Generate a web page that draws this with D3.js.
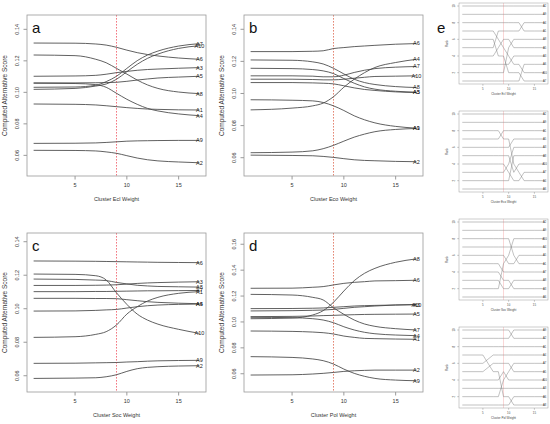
<!DOCTYPE html>
<html>
<head>
<meta charset="utf-8">
<style>
    body { margin: 0; background: white; }
    svg { display: block; font-family: "Liberation Sans", Arial, sans-serif; }
</style>
</head>
<body>
<svg width="550" height="424"></svg>

<script src="https://d3js.org/d3.v7.min.js"></script>
<script>
    const knots = [1, 5, 7, 8, 9, 10, 11, 12, 13, 15, 17];
    const alternatives = ["A1", "A2", "A3", "A4", "A5", "A6", "A7", "A8", "A9", "A10"];

    // rows follow the alternatives order
    const eclScores = [
        [0.0926, 0.0924, 0.0920, 0.0915, 0.0909, 0.0903, 0.0898, 0.0894, 0.0892, 0.0889, 0.0888],
        [0.0632, 0.0631, 0.0628, 0.0622, 0.0613, 0.0598, 0.0583, 0.0572, 0.0565, 0.0558, 0.0553],
        [0.1102, 0.1104, 0.1108, 0.1115, 0.1125, 0.1133, 0.1140, 0.1145, 0.1148, 0.1153, 0.1157],
        [0.1058, 0.1056, 0.1049, 0.1032, 0.0994, 0.0956, 0.0924, 0.0898, 0.0882, 0.0863, 0.0852],
        [0.1060, 0.1060, 0.1061, 0.1062, 0.1064, 0.1070, 0.1078, 0.1085, 0.1091, 0.1097, 0.1102],
        [0.1313, 0.1312, 0.1307, 0.1300, 0.1286, 0.1268, 0.1252, 0.1240, 0.1231, 0.1218, 0.1210],
        [0.1032, 0.1034, 0.1045, 0.1068, 0.1102, 0.1152, 0.1201, 0.1237, 0.1262, 0.1294, 0.1309],
        [0.1237, 0.1233, 0.1210, 0.1188, 0.1152, 0.1116, 0.1078, 0.1047, 0.1025, 0.1002, 0.0992],
        [0.0676, 0.0677, 0.0679, 0.0682, 0.0686, 0.0690, 0.0692, 0.0693, 0.0694, 0.0695, 0.0695],
        [0.1019, 0.1025, 0.1040, 0.1053, 0.1083, 0.1131, 0.1178, 0.1216, 0.1243, 0.1279, 0.1296]
    ];
    const ecoScores = [
        [0.0961, 0.0958, 0.0954, 0.0944, 0.0923, 0.0894, 0.0861, 0.0836, 0.0817, 0.0795, 0.0784],
        [0.0616, 0.0614, 0.0612, 0.0608, 0.0602, 0.0594, 0.0587, 0.0583, 0.0581, 0.0577, 0.0575],
        [0.1157, 0.1155, 0.1149, 0.1141, 0.1124, 0.1093, 0.1064, 0.1041, 0.1027, 0.1014, 0.1008],
        [0.0898, 0.0909, 0.0923, 0.0940, 0.0980, 0.1039, 0.1089, 0.1130, 0.1162, 0.1193, 0.1213],
        [0.1068, 0.1068, 0.1066, 0.1064, 0.1060, 0.1048, 0.1035, 0.1025, 0.1019, 0.1010, 0.1006],
        [0.1261, 0.1261, 0.1263, 0.1266, 0.1280, 0.1286, 0.1292, 0.1296, 0.1300, 0.1307, 0.1311],
        [0.1110, 0.1110, 0.1108, 0.1104, 0.1104, 0.1114, 0.1131, 0.1145, 0.1155, 0.1164, 0.1168],
        [0.1209, 0.1207, 0.1197, 0.1184, 0.1157, 0.1122, 0.1089, 0.1068, 0.1056, 0.1043, 0.1037],
        [0.0631, 0.0635, 0.0643, 0.0656, 0.0677, 0.0703, 0.0728, 0.0747, 0.0762, 0.0776, 0.0782],
        [0.1089, 0.1089, 0.1087, 0.1085, 0.1085, 0.1089, 0.1095, 0.1101, 0.1106, 0.1108, 0.1110]
    ];
    const socScores = [
        [0.0829, 0.0833, 0.0847, 0.0863, 0.0903, 0.0968, 0.1012, 0.1046, 0.1068, 0.1092, 0.1102],
        [0.0584, 0.0586, 0.0588, 0.0594, 0.0606, 0.0626, 0.0642, 0.0650, 0.0654, 0.0658, 0.0660],
        [0.1139, 0.1139, 0.1140, 0.1141, 0.1143, 0.1147, 0.1151, 0.1154, 0.1156, 0.1159, 0.1161],
        [0.0986, 0.0987, 0.0990, 0.0993, 0.0996, 0.1004, 0.1012, 0.1018, 0.1022, 0.1026, 0.1028],
        [0.1062, 0.1062, 0.1061, 0.1061, 0.1060, 0.1054, 0.1048, 0.1042, 0.1038, 0.1033, 0.1030],
        [0.1285, 0.1284, 0.1283, 0.1282, 0.1281, 0.1280, 0.1279, 0.1278, 0.1277, 0.1276, 0.1275],
        [0.1102, 0.1102, 0.1103, 0.1103, 0.1104, 0.1105, 0.1106, 0.1107, 0.1107, 0.1108, 0.1109],
        [0.1177, 0.1175, 0.1171, 0.1168, 0.1157, 0.1148, 0.1140, 0.1136, 0.1133, 0.1131, 0.1129],
        [0.0674, 0.0675, 0.0677, 0.0678, 0.0679, 0.0682, 0.0684, 0.0687, 0.0689, 0.0691, 0.0692],
        [0.1207, 0.1205, 0.1197, 0.1172, 0.1095, 0.1026, 0.0968, 0.0932, 0.0908, 0.0877, 0.0853]
    ];
    const polScores = [
        [0.0930, 0.0927, 0.0922, 0.0917, 0.0907, 0.0891, 0.0881, 0.0873, 0.0871, 0.0868, 0.0866],
        [0.0590, 0.0592, 0.0598, 0.0603, 0.0610, 0.0618, 0.0623, 0.0626, 0.0628, 0.0628, 0.0628],
        [0.1103, 0.1104, 0.1106, 0.1108, 0.1113, 0.1118, 0.1123, 0.1126, 0.1128, 0.1131, 0.1134],
        [0.1036, 0.1033, 0.1025, 0.1015, 0.0994, 0.0963, 0.0938, 0.0920, 0.0909, 0.0899, 0.0894],
        [0.1041, 0.1043, 0.1046, 0.1049, 0.1051, 0.1054, 0.1056, 0.1058, 0.1059, 0.1060, 0.1061],
        [0.1260, 0.1261, 0.1268, 0.1273, 0.1286, 0.1298, 0.1306, 0.1311, 0.1317, 0.1319, 0.1322],
        [0.1213, 0.1208, 0.1190, 0.1170, 0.1110, 0.1059, 0.1015, 0.0984, 0.0966, 0.0948, 0.0938],
        [0.1025, 0.1030, 0.1054, 0.1087, 0.1152, 0.1239, 0.1319, 0.1376, 0.1414, 0.1461, 0.1487],
        [0.0732, 0.0726, 0.0714, 0.0701, 0.0675, 0.0636, 0.0603, 0.0580, 0.0564, 0.0551, 0.0546],
        [0.1085, 0.1087, 0.1090, 0.1092, 0.1097, 0.1105, 0.1113, 0.1118, 0.1123, 0.1131, 0.1134]
    ];

    const weightTicks = [5, 10, 15];
    const scoreTicks = [0.06, 0.08, 0.10, 0.12, 0.14];
    const scoreTicksPol = [0.06, 0.08, 0.10, 0.12, 0.14, 0.16];
    const rankTicks = [2, 4, 6, 8, 10];
    const currentWeight = 9;

    let svg = d3.select("svg");
    const lineColor = "#444";
    const boxColor = "#9a9a9a";

    const panels = [
        { letter: "a", title: "Cluster Ecl Weight", scores: eclScores, left: 27, right: 206, top: 15, bottom: 176,
          domain: [0.0469, 0.1491], ticks: scoreTicks, refColor: "#ee3e4c", eTop: 3 },
        { letter: "b", title: "Cluster Eco Weight", scores: ecoScores, left: 244, right: 423, top: 15, bottom: 176,
          domain: [0.0486, 0.1489], ticks: scoreTicks, refColor: "#d9533a", eTop: 111 },
        { letter: "c", title: "Cluster Soc Weight", scores: socScores, left: 27, right: 206, top: 233, bottom: 392,
          domain: [0.0503, 0.1452], ticks: scoreTicks, refColor: "#ee3e4c", eTop: 219 },
        { letter: "d", title: "Cluster Pol Weight", scores: polScores, left: 244, right: 423, top: 233, bottom: 392,
          domain: [0.0459, 0.1687], ticks: scoreTicksPol, refColor: "#d9533a", eTop: 327 }
    ];

    panels.forEach(function (p) {
        let g = svg.append("g");

        let x = d3.scaleLinear().domain([0.36, 17.64]).range([p.left, p.right]);
        let y = d3.scaleLinear().domain(p.domain).range([p.bottom, p.top]);

        // y axis: rotated labels like base R
        let yAxis = g.append("g");
        yAxis.selectAll("line")
            .data(p.ticks)
            .join("line")
            .attr("x1", p.left).attr("x2", p.left - 3.5)
            .attr("y1", d => y(d)).attr("y2", d => y(d))
            .style("stroke", "#555").style("stroke-width", 0.6);
        yAxis.selectAll("text")
            .data(p.ticks)
            .join("text")
            .attr("transform", d => `translate(${p.left - 8},${y(d)}) rotate(-90)`)
            .attr("text-anchor", "middle")
            .style("font-size", "5.5px")
            .style("fill", "#333")
            .text(d => d.toFixed(2));

        g.append("text")
            .attr("transform", `translate(${p.left - 20},${(p.top + p.bottom) / 2}) rotate(-90)`)
            .attr("text-anchor", "middle")
            .style("font-size", "6.5px")
            .style("fill", "#333")
            .text("Computed Alternative Score");

        // x axis
        let xAxis = g.append("g");
        xAxis.selectAll("line")
            .data(weightTicks)
            .join("line")
            .attr("x1", d => x(d)).attr("x2", d => x(d))
            .attr("y1", p.bottom).attr("y2", p.bottom + 3.5)
            .style("stroke", "#555").style("stroke-width", 0.6);
        xAxis.selectAll("text")
            .data(weightTicks)
            .join("text")
            .attr("x", d => x(d))
            .attr("y", p.bottom + 11)
            .attr("text-anchor", "middle")
            .style("font-size", "5.5px")
            .style("fill", "#333")
            .text(d => d);

        g.append("text")
            .attr("x", (p.left + p.right) / 2)
            .attr("y", p.bottom + 25)
            .attr("text-anchor", "middle")
            .style("font-size", "5.5px")
            .style("fill", "#333")
            .text(p.title);

        // current weight
        g.append("line")
            .attr("x1", x(currentWeight)).attr("x2", x(currentWeight))
            .attr("y1", p.top).attr("y2", p.bottom)
            .style("stroke", p.refColor)
            .style("stroke-width", 0.7)
            .style("stroke-dasharray", "1.6,1.4");

        let line = d3.line()
            .x((d, i) => x(knots[i]))
            .y(d => y(d))
            .curve(d3.curveMonotoneX);

        g.append("g")
            .selectAll("path")
            .data(p.scores)
            .join("path")
            .attr("d", d => line(d))
            .style("fill", "none")
            .style("stroke", lineColor)
            .style("stroke-width", 0.85);

        g.append("g")
            .selectAll("text")
            .data(p.scores)
            .join("text")
            .attr("x", x(17))
            .attr("y", d => y(d[d.length - 1]))
            .attr("dy", "0.35em")
            .attr("text-anchor", "middle")
            .style("font-size", "5.5px")
            .style("fill", "#222")
            .text((d, i) => alternatives[i]);

        g.append("rect")
            .attr("x", p.left).attr("y", p.top)
            .attr("width", p.right - p.left).attr("height", p.bottom - p.top)
            .style("fill", "none")
            .style("stroke", boxColor)
            .style("stroke-width", 0.8);

        g.append("text")
            .attr("x", p.left + 5)
            .attr("y", p.top + 18)
            .style("font-size", "15px")
            .style("fill", "#111")
            .text(p.letter);

        drawRanks(p);
    });

    // small rank plots in column e, ranks taken from the same scores
    function drawRanks(p) {
        let left = 459, right = 548, top = p.eTop, bottom = p.eTop + 81;
        let g = svg.append("g");

        let x = d3.scaleLinear().domain([0.36, 17.64]).range([left, right]);
        let y = d3.scaleLinear().domain([0.64, 10.36]).range([bottom, top]);

        let ranks = p.scores.map(() => []);
        knots.forEach(function (k, i) {
            let order = d3.range(p.scores.length)
                .sort((a, b) => p.scores[b][i] - p.scores[a][i]);
            order.forEach((alt, pos) => { ranks[alt][i] = pos + 1 });
        });

        g.append("line")
            .attr("x1", x(currentWeight)).attr("x2", x(currentWeight))
            .attr("y1", top).attr("y2", bottom)
            .style("stroke", "#f29a9a")
            .style("stroke-width", 0.4);

        let line = d3.line()
            .x((d, i) => x(knots[i]))
            .y(d => y(d));

        g.append("g")
            .selectAll("path")
            .data(ranks)
            .join("path")
            .attr("d", d => line(d))
            .style("fill", "none")
            .style("stroke", "#777")
            .style("stroke-width", 0.45);

        g.append("g")
            .selectAll("text")
            .data(ranks)
            .join("text")
            .attr("x", x(17))
            .attr("y", d => y(d[d.length - 1]))
            .attr("dy", "0.35em")
            .attr("text-anchor", "middle")
            .style("font-size", "2.6px")
            .style("fill", "#333")
            .text((d, i) => alternatives[i]);

        g.append("rect")
            .attr("x", left).attr("y", top)
            .attr("width", right - left).attr("height", bottom - top)
            .style("fill", "none")
            .style("stroke", boxColor)
            .style("stroke-width", 0.5);

        g.selectAll(".ytick")
            .data(rankTicks)
            .join("line")
            .attr("x1", left).attr("x2", left - 1.8)
            .attr("y1", d => y(d)).attr("y2", d => y(d))
            .style("stroke", "#777").style("stroke-width", 0.4);
        g.selectAll(".ylab")
            .data(rankTicks)
            .join("text")
            .attr("transform", d => `translate(${left - 4},${y(d)}) rotate(-90)`)
            .attr("text-anchor", "middle")
            .style("font-size", "2.8px")
            .style("fill", "#444")
            .text(d => d);
        g.append("text")
            .attr("transform", `translate(${left - 11},${(top + bottom) / 2}) rotate(-90)`)
            .attr("text-anchor", "middle")
            .style("font-size", "3px")
            .style("fill", "#444")
            .text("Rank");

        g.selectAll(".xtick")
            .data(weightTicks)
            .join("line")
            .attr("x1", d => x(d)).attr("x2", d => x(d))
            .attr("y1", bottom).attr("y2", bottom + 1.8)
            .style("stroke", "#777").style("stroke-width", 0.4);
        g.selectAll(".xlab")
            .data(weightTicks)
            .join("text")
            .attr("x", d => x(d))
            .attr("y", bottom + 5.5)
            .attr("text-anchor", "middle")
            .style("font-size", "2.8px")
            .style("fill", "#444")
            .text(d => d);
        g.append("text")
            .attr("x", (left + right) / 2)
            .attr("y", bottom + 11)
            .attr("text-anchor", "middle")
            .style("font-size", "3px")
            .style("fill", "#444")
            .text(p.title);
    }

    svg.append("text")
        .attr("x", 437)
        .attr("y", 33)
        .style("font-size", "15px")
        .style("fill", "#111")
        .text("e");
</script>
</body>
</html>
